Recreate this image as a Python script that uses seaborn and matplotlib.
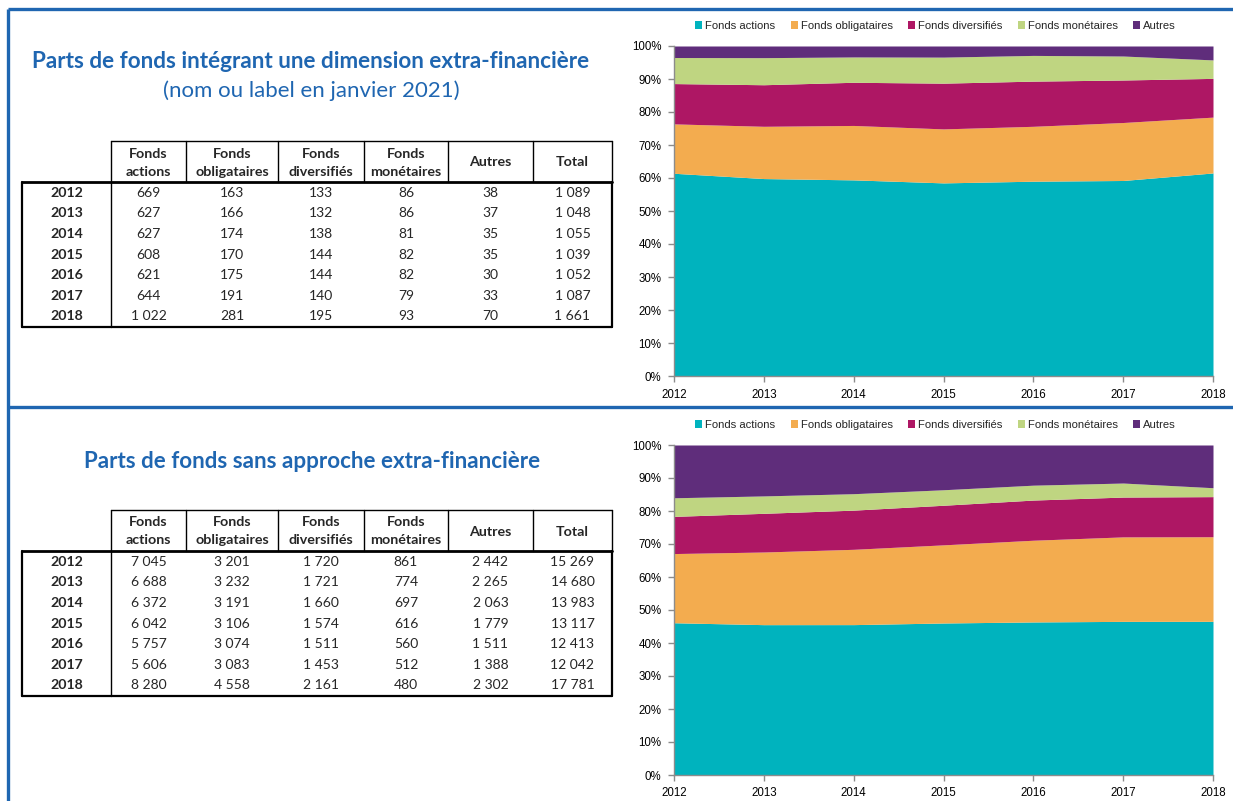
import matplotlib
matplotlib.use("Agg")
import matplotlib.pyplot as plt
from matplotlib.patches import Patch
from matplotlib.ticker import PercentFormatter
import numpy as np
import seaborn as sns

# ---- data ---------------------------------------------------------------
years = [2012, 2013, 2014, 2015, 2016, 2017, 2018]
categories = ["Fonds actions", "Fonds obligataires", "Fonds diversifiés",
              "Fonds monétaires", "Autres"]
header_labels = ["Fonds\nactions", "Fonds\nobligataires", "Fonds\ndiversifiés",
                 "Fonds\nmonétaires", "Autres", "Total"]

# funds with an extra-financial dimension
esg_actions = [669, 627, 627, 608, 621, 644, 1022]
esg_obligataires = [163, 166, 174, 170, 175, 191, 281]
esg_diversifies = [133, 132, 138, 144, 144, 140, 195]
esg_monetaires = [86, 86, 81, 82, 82, 79, 93]
esg_autres = [38, 37, 35, 35, 30, 33, 70]
esg_total = [1089, 1048, 1055, 1039, 1052, 1087, 1661]

# funds without an extra-financial approach
std_actions = [7045, 6688, 6372, 6042, 5757, 5606, 8280]
std_obligataires = [3201, 3232, 3191, 3106, 3074, 3083, 4558]
std_diversifies = [1720, 1721, 1660, 1574, 1511, 1453, 2161]
std_monetaires = [861, 774, 697, 616, 560, 512, 480]
std_autres = [2442, 2265, 2063, 1779, 1511, 1388, 2302]
std_total = [15269, 14680, 13983, 13117, 12413, 12042, 17781]

title_top = "Parts de fonds intégrant une dimension extra-financière"
subtitle_top = "(nom ou label en janvier 2021)"
title_bottom = "Parts de fonds sans approche extra-financière"

colors = ["#00B3BE", "#F3AC4F", "#AE1764", "#BFD581", "#5F2D7B"]
frame_blue = "#1F66B1"
title_blue = "#1F66B1"

# ---- style ----------------------------------------------------------------
sns.set_theme(style="white")
plt.rcParams["font.family"] = ["Lato", "DejaVu Sans"]
palette = sns.color_palette(colors)

W, H = 1233, 801
fig = plt.figure(figsize=(W / 100, H / 100), dpi=100)

# background axes in pixel units for the frame, titles and tables
bg = fig.add_axes([0, 0, 1, 1])
bg.set_xlim(0, W)
bg.set_ylim(H, 0)
bg.axis("off")

# blue frame
bg.plot([8, W], [9, 9], color=frame_blue, lw=2.4, solid_capstyle="butt")
bg.plot([8, 8], [9, H], color=frame_blue, lw=2.4, solid_capstyle="butt")
bg.plot([8, W], [406.5, 406.5], color=frame_blue, lw=2.4, solid_capstyle="butt")

# titles
bg.text(311, 62, title_top, color=title_blue, fontsize=16.2, fontweight="bold",
        ha="center", va="center")
bg.text(311, 91, subtitle_top, color=title_blue, fontsize=16.0,
        ha="center", va="center")
bg.text(312, 461, title_bottom, color=title_blue, fontsize=16.1,
        fontweight="bold", ha="center", va="center")


def fmt(n):
    return f"{n:,}".replace(",", " ")


col_edges = [22, 111, 186, 278, 364, 448, 533, 612]


def draw_table(top, series, totals):
    header_bottom = top + 41
    row_h = 20.6
    bottom = header_bottom + row_h * len(years) + 0.5
    lw = 1.0
    # header frame (no border around the empty year cell)
    bg.plot([col_edges[1], col_edges[-1]], [top, top], color="black", lw=lw)
    for x in col_edges[1:]:
        bg.plot([x, x], [top, header_bottom], color="black", lw=lw)
    # thick line under header
    bg.plot([col_edges[0], col_edges[-1]], [header_bottom, header_bottom],
            color="black", lw=2.0)
    # body outline and year separator
    bg.plot([col_edges[0], col_edges[0]], [header_bottom, bottom], color="black", lw=1.6)
    bg.plot([col_edges[-1], col_edges[-1]], [header_bottom, bottom], color="black", lw=1.6)
    bg.plot([col_edges[0], col_edges[-1]], [bottom, bottom], color="black", lw=1.6)
    bg.plot([col_edges[1], col_edges[1]], [header_bottom, bottom], color="black", lw=lw)
    # header labels
    for j, lab in enumerate(header_labels):
        cx = (col_edges[j + 1] + col_edges[j + 2]) / 2
        bg.text(cx, (top + header_bottom) / 2 + 1, lab, fontsize=10.3,
                fontweight="bold", ha="center", va="center", linespacing=1.6)
    # rows
    cols = list(series) + [totals]
    for i, y in enumerate(years):
        cy = header_bottom + row_h * (i + 0.5) + 0.5
        bg.text((col_edges[0] + col_edges[1]) / 2, cy, str(y), fontsize=10.2,
                fontweight="bold", ha="center", va="center")
        for j, vals in enumerate(cols):
            cx = (col_edges[j + 1] + col_edges[j + 2]) / 2
            bg.text(cx, cy, fmt(vals[i]), fontsize=10.0, ha="center", va="center")


esg_series = [esg_actions, esg_obligataires, esg_diversifies, esg_monetaires, esg_autres]
std_series = [std_actions, std_obligataires, std_diversifies, std_monetaires, std_autres]

draw_table(141, esg_series, esg_total)
draw_table(510, std_series, std_total)


# ---- stacked share charts --------------------------------------------------
def share_chart(rect, series):
    ax = fig.add_axes(rect)
    data = np.array(series, dtype=float)
    shares = data / data.sum(axis=0)
    ax.stackplot(years, shares, colors=palette, linewidth=0)
    ax.set_xlim(years[0], years[-1])
    ax.set_ylim(0, 1)
    ax.set_xticks(years)
    ax.set_yticks(np.arange(0, 1.01, 0.1))
    ax.yaxis.set_major_formatter(PercentFormatter(1.0, decimals=0))
    sns.despine(ax=ax, top=True, right=True)
    for side in ("left", "bottom"):
        ax.spines[side].set_color("#8C8C8C")
        ax.spines[side].set_linewidth(1.0)
    ax.tick_params(axis="both", which="major", direction="out", length=4,
                   width=1.0, color="#8C8C8C", labelsize=8.3,
                   bottom=True, left=True)
    ax.tick_params(axis="x", pad=5)
    ax.tick_params(axis="y", pad=5)
    for lab in ax.get_xticklabels() + ax.get_yticklabels():
        lab.set_fontfamily(["Liberation Sans", "DejaVu Sans"])
        lab.set_color("black")
    ax.grid(False)
    handles = [Patch(facecolor=c, edgecolor="none") for c in palette]
    ax.legend(handles, categories, loc="center", ncol=5,
              bbox_to_anchor=(0.485, 1.06), frameon=False,
              handlelength=0.65, handleheight=0.65, handletextpad=0.25,
              columnspacing=1.35, borderaxespad=0,
              prop={"family": ["Liberation Sans", "DejaVu Sans"], "size": 8.1})
    return ax


ax_l = 674 / W
ax_w = (1213 - 674) / W
ax_h = 330 / H
share_chart([ax_l, 1 - 376 / H, ax_w, ax_h], esg_series)
share_chart([ax_l, 1 - 775 / H, ax_w, ax_h], std_series)

fig.savefig("out.png", dpi=100)
